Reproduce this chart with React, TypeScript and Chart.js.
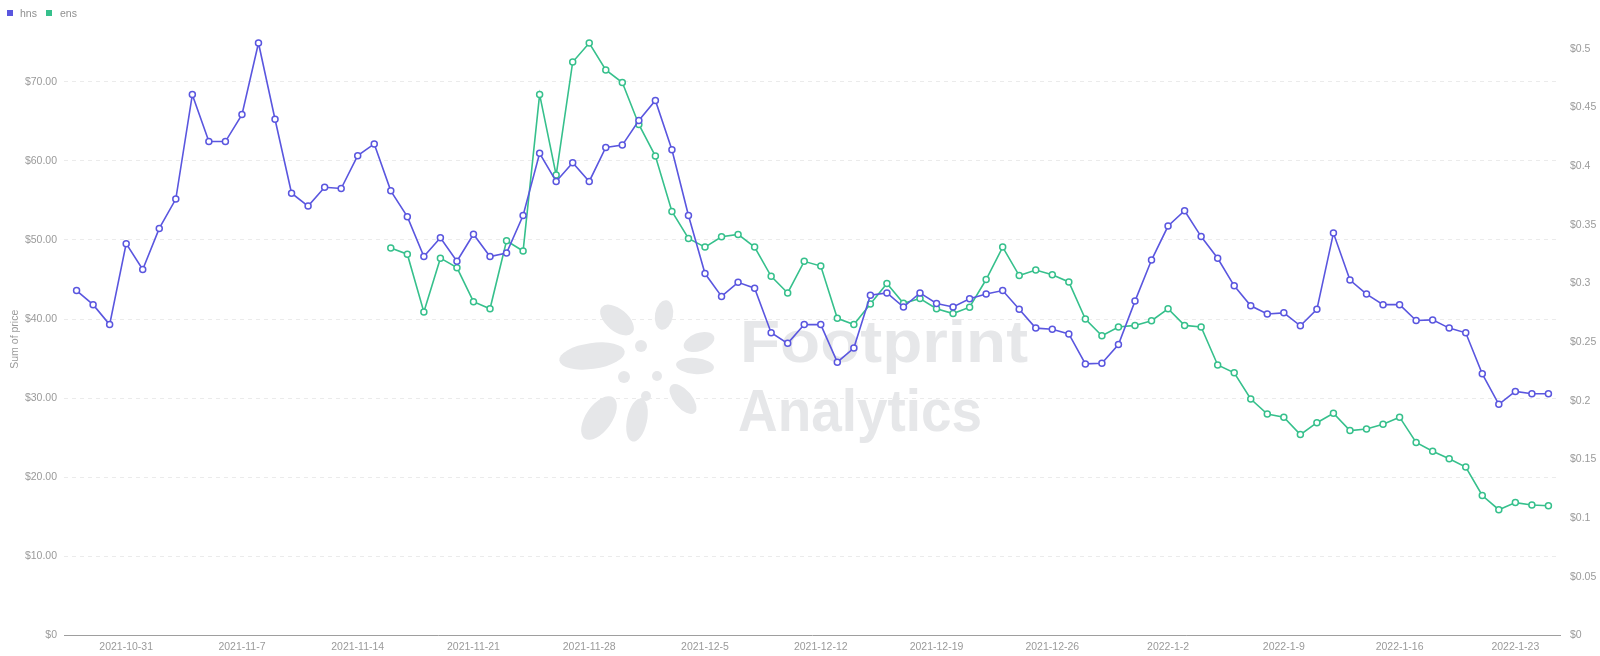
import React, { useEffect, useRef } from 'react';
import { Chart, registerables } from 'chart.js';

Chart.register(...registerables);

// ---- data ----
const firstDay = [2021, 10, 28]; // year, month, day of first category
const dayCount = 90;

const seriesNames = ['hns', 'ens'];

// hns price (right axis, USD)
const hnsPrice = [
  0.294, 0.282, 0.265, 0.334, 0.312, 0.347, 0.372, 0.461, 0.421, 0.421,
  0.444, 0.505, 0.44, 0.377, 0.366, 0.382, 0.381, 0.409, 0.419, 0.379,
  0.357, 0.323, 0.339, 0.319, 0.342, 0.323, 0.326, 0.358, 0.411, 0.387,
  0.403, 0.387, 0.416, 0.418, 0.439, 0.456, 0.414, 0.358, 0.3085, 0.289,
  0.301, 0.296, 0.258, 0.249, 0.265, 0.265, 0.233, 0.245, 0.29, 0.292,
  0.28, 0.292, 0.283, 0.28, 0.287, 0.291, 0.294, 0.278, 0.262, 0.261,
  0.257, 0.2315, 0.232, 0.248, 0.285, 0.32, 0.349, 0.362, 0.34, 0.3215,
  0.298, 0.281, 0.274, 0.275, 0.264, 0.278, 0.343, 0.303, 0.291, 0.282,
  0.282, 0.2685, 0.269, 0.262, 0.258, 0.223, 0.197, 0.208, 0.206, 0.206,
];

// ens price (left axis, USD); no data before 2021-11-16
const ensPrice = [
  null, null, null, null, null, null, null, null, null, null,
  null, null, null, null, null, null, null, null, null, 49.0,
  48.2, 40.9, 47.7, 46.5, 42.2, 41.3, 49.9, 48.6, 68.4, 58.2,
  72.5, 74.9, 71.5, 69.9, 64.6, 60.6, 53.6, 50.2, 49.1, 50.4,
  50.7, 49.1, 45.4, 43.3, 47.3, 46.7, 40.1, 39.3, 41.9, 44.5,
  42.0, 42.6, 41.3, 40.7, 41.5, 45.0, 49.1, 45.5, 46.2, 45.6,
  44.7, 40.0, 37.9, 39.0, 39.2, 39.8, 41.3, 39.2, 39.0, 34.2,
  33.2, 29.9, 28.0, 27.6, 25.4, 26.9, 28.1, 25.9, 26.1, 26.7,
  27.6, 24.4, 23.3, 22.35, 21.3, 17.7, 15.9, 16.8, 16.5, 16.4,
];

const leftStep = 10;
const rightStep = 0.05;

// ---- derived ----
const dates: string[] = Array.from({ length: dayCount }, (_, i) => {
  const d = new Date(Date.UTC(firstDay[0], firstDay[1] - 1, firstDay[2] + i));
  return `${d.getUTCFullYear()}-${d.getUTCMonth() + 1}-${d.getUTCDate()}`;
});
const weekTickIdx: number[] = dates
  .map((s, i) => ({ i, wd: new Date(Date.UTC(firstDay[0], firstDay[1] - 1, firstDay[2] + i)).getUTCDay() }))
  .filter((o) => o.wd === 0)
  .map((o) => o.i);

const hnsMax = Math.max(...hnsPrice);
const ensMax = Math.max(...(ensPrice.filter((v) => v !== null) as number[]));

const HNS_COLOR = '#5a56df';
const ENS_COLOR = '#36c08c';
const TEXT_COLOR = '#9a9a9a';
const FONT_FAMILY = '"Liberation Sans", Arial, Helvetica, sans-serif';

// watermark logo leaves: cx, cy, rx, ry, rotation(deg)
const logoLeaves = [
  [592, 356, 33, 13, -8],
  [617, 320, 20, 11, 40],
  [664, 315, 9, 15, 10],
  [699, 342, 16, 9, -20],
  [695, 366, 19, 8, 5],
  [683, 399, 18, 9, 50],
  [637, 420, 10, 22, 12],
  [599, 418, 13, 25, 35],
  [641, 346, 6, 6, 0],
  [657, 376, 5, 5, 0],
  [624, 377, 6, 6, 0],
  [646, 396, 5, 5, 0],
];

const watermarkPlugin = {
  id: 'fpWatermark',
  beforeDatasetsDraw(chart: any) {
    const ctx = chart.ctx as CanvasRenderingContext2D;
    ctx.save();
    ctx.fillStyle = '#e6e7e9';
    for (const [cx, cy, rx, ry, rot] of logoLeaves) {
      ctx.beginPath();
      ctx.ellipse(cx, cy, rx, ry, (rot * Math.PI) / 180, 0, Math.PI * 2);
      ctx.fill();
    }
    ctx.font = `bold 60px ${FONT_FAMILY}`;
    ctx.textBaseline = 'alphabetic';
    ctx.textAlign = 'left';
    const stretched = (text: string, x: number, y: number, w: number) => {
      const m = ctx.measureText(text).width;
      ctx.save();
      ctx.translate(x, y);
      ctx.scale(w / m, 1);
      ctx.fillText(text, 0, 0);
      ctx.restore();
    };
    stretched('Footprint', 740, 362, 288);
    stretched('Analytics', 738, 431, 244);
    ctx.restore();
  },
};

export default function App() {
  const canvasRef = useRef<HTMLCanvasElement | null>(null);

  useEffect(() => {
    if (!canvasRef.current) return;
    const tickFont = { family: FONT_FAMILY, size: 10.5 };
    const chart = new Chart(canvasRef.current, {
      type: 'line',
      data: {
        datasets: [
          {
            label: seriesNames[0],
            data: hnsPrice.map((y, x) => ({ x, y })),
            yAxisID: 'y1',
            borderColor: HNS_COLOR,
            backgroundColor: HNS_COLOR,
            pointBackgroundColor: '#ffffff',
            pointBorderColor: HNS_COLOR,
            pointRadius: 3,
            pointBorderWidth: 1.5,
            borderWidth: 1.6,
            tension: 0,
            clip: false,
          },
          {
            label: seriesNames[1],
            data: ensPrice.map((y, x) => ({ x, y })),
            yAxisID: 'y',
            borderColor: ENS_COLOR,
            backgroundColor: ENS_COLOR,
            pointBackgroundColor: '#ffffff',
            pointBorderColor: ENS_COLOR,
            pointRadius: 3,
            pointBorderWidth: 1.5,
            borderWidth: 1.6,
            tension: 0,
            clip: false,
          },
        ],
      },
      options: {
        animation: false,
        responsive: false,
        devicePixelRatio: 1,
        layout: { padding: { top: 43, left: 0, right: 0, bottom: 0 } },
        plugins: {
          legend: { display: false },
          tooltip: { enabled: false },
        },
        scales: {
          x: {
            type: 'linear',
            min: -0.76,
            max: 89.7,
            grid: { display: false, drawTicks: false },
            border: { display: true, color: '#9e9e9e', width: 1 },
            ticks: {
              autoSkip: false,
              maxRotation: 0,
              padding: 5,
              color: TEXT_COLOR,
              font: tickFont,
              callback: (v: any) => dates[v as number] ?? '',
            },
            afterBuildTicks: (s: any) => {
              s.ticks = weekTickIdx.map((value) => ({ value }));
            },
            afterFit: (s: any) => {
              s.height = 20.5;
            },
          },
          y: {
            type: 'linear',
            position: 'left',
            min: 0,
            max: ensMax,
            grid: { color: '#ebebeb', drawTicks: false, lineWidth: 1 },
            border: { display: false, dash: [4, 4] },
            ticks: {
              stepSize: leftStep,
              includeBounds: false,
              padding: 7,
              color: TEXT_COLOR,
              font: tickFont,
              callback: (v: any) => (Number(v) === 0 ? '$0' : '$' + Number(v).toFixed(2)),
            },
            title: {
              display: true,
              text: 'Sum of price',
              color: TEXT_COLOR,
              font: tickFont,
              padding: { top: 9, bottom: 0 },
            },
            afterFit: (s: any) => {
              s.width = 64;
            },
          },
          y1: {
            type: 'linear',
            position: 'right',
            min: 0,
            max: hnsMax,
            grid: { display: false, drawTicks: false },
            border: { display: false },
            ticks: {
              stepSize: rightStep,
              includeBounds: false,
              padding: 10,
              color: TEXT_COLOR,
              font: tickFont,
              callback: (v: any) => '$' + parseFloat(Number(v).toFixed(2)),
            },
            afterFit: (s: any) => {
              s.width = 40;
            },
          },
        },
      } as any,
      plugins: [watermarkPlugin],
    });
    return () => chart.destroy();
  }, []);

  const legendText: React.CSSProperties = {
    position: 'absolute',
    top: 7,
    lineHeight: '12px',
    fontFamily: FONT_FAMILY,
    fontSize: 10.5,
    color: '#8f8f8f',
  };

  return (
    <div style={{ position: 'absolute', left: 0, top: 0, width: 1600, height: 656, background: '#ffffff', overflow: 'hidden' }}>
      <canvas ref={canvasRef} width={1600} height={656} style={{ display: 'block', width: 1600, height: 656 }} />
      <div style={{ position: 'absolute', left: 7, top: 10, width: 6, height: 6, background: HNS_COLOR }} />
      <div style={{ ...legendText, left: 20 }}>{seriesNames[0]}</div>
      <div style={{ position: 'absolute', left: 46, top: 10, width: 6, height: 6, background: ENS_COLOR }} />
      <div style={{ ...legendText, left: 60 }}>{seriesNames[1]}</div>
    </div>
  );
}
